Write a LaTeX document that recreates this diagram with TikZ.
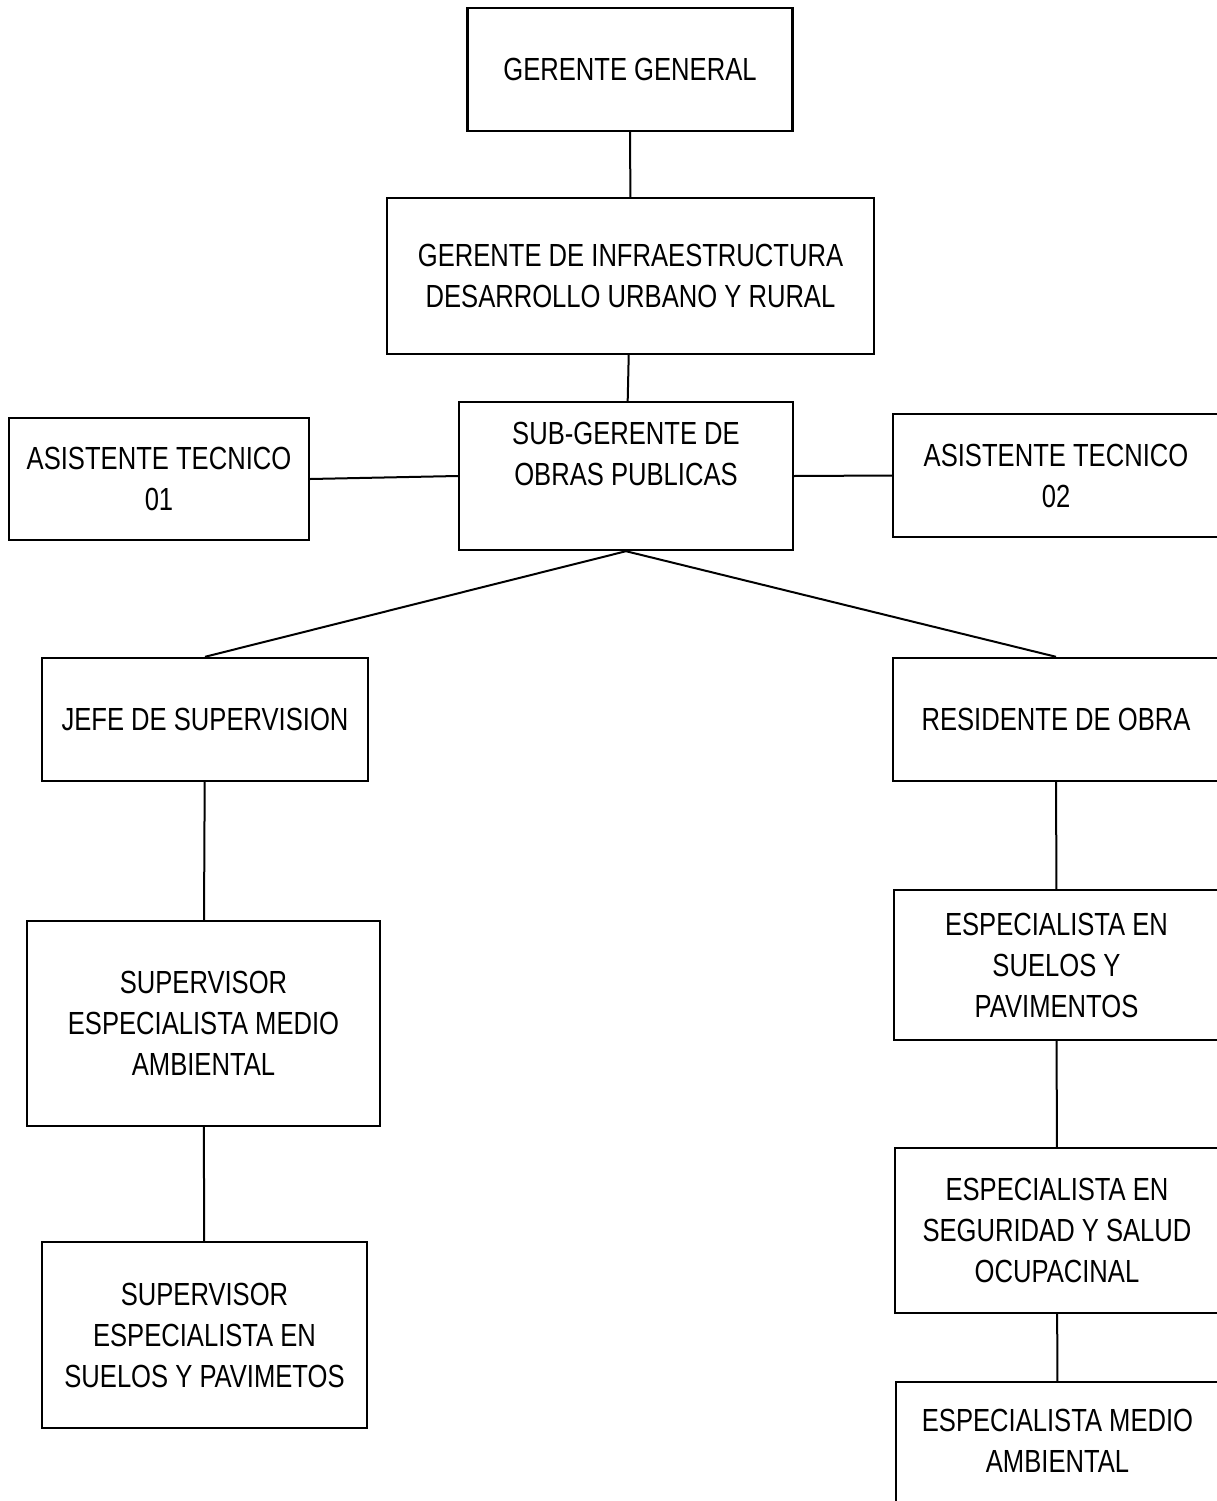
\documentclass[tikz,border=0pt]{standalone}
\usepackage{fontspec}
\setmainfont[FakeStretch=0.80]{Liberation Sans}
\usepackage{tikz}
\usetikzlibrary{positioning}

\begin{document}
\begin{tikzpicture}[
  x=1pt,y=-1pt,
  font=\fontsize{32}{41}\selectfont,
  cargo/.style={draw=black,line width=2.4pt,align=center,inner sep=2pt},
  enlace/.style={draw=black,line width=2pt}]

\path[use as bounding box,clip] (0,0) rectangle (1217,1501);

% fila superior
\node[cargo,minimum width=325pt,minimum height=123pt] (gg)  at (630,69.5) {GERENTE GENERAL};
\node[cargo,minimum width=487pt,minimum height=156pt] (gi)  at (630.5,276) {GERENTE DE INFRAESTRUCTURA\\DESARROLLO URBANO Y RURAL};
\node[cargo,minimum width=334pt,minimum height=148pt,text depth=45pt] (sg) at (626,476) {SUB-GERENTE DE\\OBRAS PUBLICAS};
\node[cargo,minimum width=300pt,minimum height=122pt] (at1) at (159,479) {ASISTENTE TECNICO\\01};
\node[cargo,minimum width=326pt,minimum height=123pt] (at2) at (1056,475.5) {ASISTENTE TECNICO\\02};

% rama izquierda
\node[cargo,minimum width=326pt,minimum height=123pt] (jefe) at (205,719.5) {JEFE DE SUPERVISION};
\node[cargo,minimum width=353pt,minimum height=205pt] (sup1) at (203.5,1023.5) {SUPERVISOR\\ESPECIALISTA MEDIO\\AMBIENTAL};
\node[cargo,minimum width=325pt,minimum height=186pt] (sup2) at (204.5,1335) {SUPERVISOR\\ESPECIALISTA EN\\SUELOS Y PAVIMETOS};

% rama derecha
\node[cargo,minimum width=326pt,minimum height=123pt] (res)  at (1056,719.5) {RESIDENTE DE OBRA};
\node[cargo,minimum width=325pt,minimum height=150pt] (esp1) at (1056.5,965) {ESPECIALISTA EN\\SUELOS Y\\PAVIMENTOS};
\node[cargo,minimum width=324pt,minimum height=165pt] (esp2) at (1057,1230.5) {ESPECIALISTA EN\\SEGURIDAD Y SALUD\\OCUPACINAL};
\node[cargo,minimum width=323pt,minimum height=138pt,text depth=21pt] (esp3) at (1057.5,1451) {ESPECIALISTA MEDIO\\AMBIENTAL};

\draw[enlace] (gg) -- (gi);
\draw[enlace] (gi) -- (sg);
\draw[enlace] (sg.west) -- (at1.east);
\draw[enlace] (sg.east) -- (at2.west);
\draw[enlace] (sg.south) -- (jefe.north);
\draw[enlace] (sg.south) -- (res.north);
\draw[enlace] (jefe) -- (sup1);
\draw[enlace] (sup1) -- (sup2);
\draw[enlace] (res) -- (esp1);
\draw[enlace] (esp1) -- (esp2);
\draw[enlace] (esp2) -- (esp3);
\end{tikzpicture}
\end{document}
